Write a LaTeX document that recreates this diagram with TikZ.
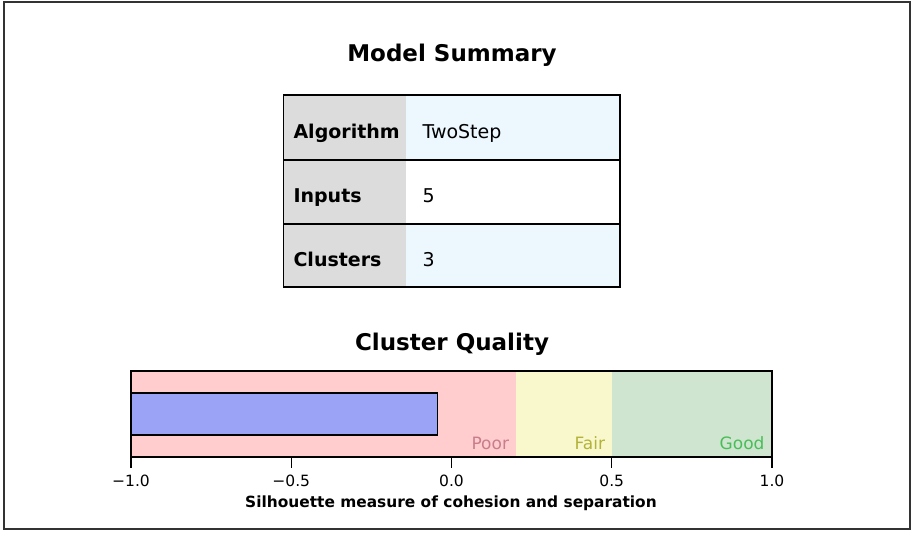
\documentclass[tikz,border=0pt]{standalone}
\usepackage{fontspec}
\setmainfont{DejaVu Sans}
\definecolor{hdrgrey}{HTML}{DCDCDC}
\definecolor{cellblue}{HTML}{EDF7FE}
\definecolor{poorbg}{HTML}{FFCDCE}
\definecolor{fairbg}{HTML}{F8F8CC}
\definecolor{goodbg}{HTML}{CFE5CF}
\definecolor{barblue}{HTML}{9BA3F6}
\definecolor{poortxt}{HTML}{C87D8C}
\definecolor{fairtxt}{HTML}{B3B33A}
\definecolor{goodtxt}{HTML}{48BE58}
\begin{document}
\begin{tikzpicture}[x=1pt,y=-1pt,
  title/.style={font=\fontsize{23}{23}\selectfont\bfseries, anchor=base},
  hdr/.style={font=\fontsize{19}{19}\selectfont\bfseries, anchor=base west},
  val/.style={font=\fontsize{19}{19}\selectfont, anchor=base west},
  ticklbl/.style={font=\fontsize{15.5}{15.5}\selectfont, anchor=base},
  zonelbl/.style={font=\fontsize{17}{17}\selectfont, anchor=base east},
  axlbl/.style={font=\fontsize{15.4}{15.4}\selectfont\bfseries, anchor=base},
  frame/.style={draw=black, line width=1.2pt}]
\useasboundingbox (0,0) rectangle (912,533);
\fill[white] (0,0) rectangle (912,533);
% outer border
\draw[black!80, line width=2pt] (3.5,2) rectangle (909.5,528.5);

% title
\node[title] (t1) at (452,61) {Model Summary};

% table
\fill[hdrgrey] (283.5,95) rectangle (406,287);
\fill[cellblue] (406,95) rectangle (620,160);
\fill[white] (406,160) rectangle (620,224);
\fill[cellblue] (406,224) rectangle (620,287);
\draw[frame] (283.5,95) rectangle (620,287);
\draw[frame] (283.5,160) -- (620,160);
\draw[frame] (283.5,224) -- (620,224);
\node[hdr] (h1) at (290,138.5) {Algorithm};
\node[val] (v1) at (419,138.5) {TwoStep};
\node[hdr] (h2) at (290,202.5) {Inputs};
\node[val] (v2) at (419,202.5) {5};
\node[hdr] (h3) at (290,266) {Clusters};
\node[val] (v3) at (419,266) {3};

% cluster quality
\node[title] (t2) at (452,350) {Cluster Quality};
\fill[poorbg] (131,371) rectangle (515.6,457);
\fill[fairbg] (515.6,371) rectangle (611.8,457);
\fill[goodbg] (611.8,371) rectangle (772,457);
\draw[frame, fill=barblue] (131,393) rectangle (437.7,435);
\draw[frame] (131,371) rectangle (772,457);
\node[zonelbl, text=poortxt] (zp) at (512.5,449) {Poor};
\node[zonelbl, text=fairtxt] (zf) at (608.5,449) {Fair};
\node[zonelbl, text=goodtxt] (zg) at (768,449) {Good};

\foreach \v/\lbl [count=\i] in {-1/{−1.0},-0.5/{−0.5},0/{0.0},0.5/{0.5},1/{1.0}} {
  \draw[line width=1.2pt] ({131+(\v+1)*320.5},457) -- ({131+(\v+1)*320.5},468);
  \node[ticklbl] (tk\i) at ({131+(\v+1)*320.5},486) {\lbl};
}
\node[axlbl] (ax) at (451,507.5) {Silhouette measure of cohesion and separation};
\end{tikzpicture}
\end{document}
